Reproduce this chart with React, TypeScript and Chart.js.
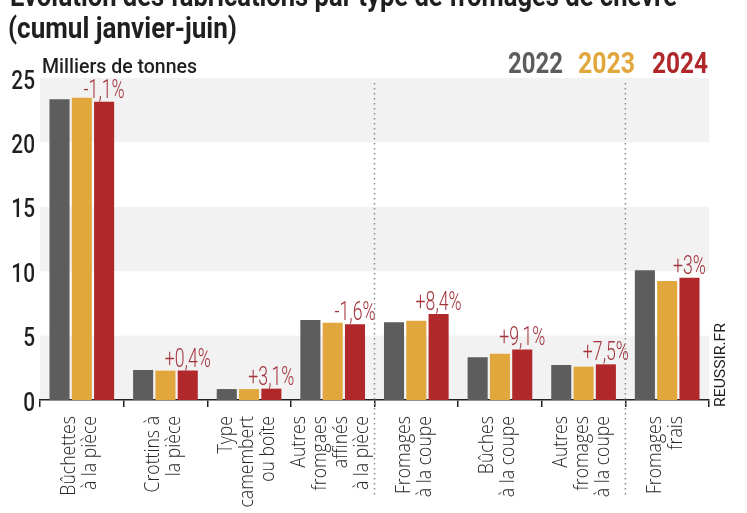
import React, { useEffect, useRef } from "react";
import { Chart, registerables } from "chart.js";

Chart.register(...registerables);

// ---- data ----
const TITLE_LINE_1 = "Évolution des fabrications par type de fromages de chèvre";
const TITLE_LINE_2 = "(cumul janvier-juin)";
const UNIT_LABEL = "Milliers de tonnes";
const SOURCE = "REUSSIR.FR";

const CATEGORIES: string[][] = [
  ["Bûchettes", "à la pièce"],
  ["Crottins à", "la pièce"],
  ["Type", "camembert", "ou boîte"],
  ["Autres", "fromgaes", "affinés", "à la pièce"],
  ["Fromages", "à la coupe"],
  ["Bûches", "à la coupe"],
  ["Autres", "fromages", "à la coupe"],
  ["Fromages", "frais"],
];
const YEARS = ["2022", "2023", "2024"];
const VALUES_2022 = [23.35, 2.33, 0.85, 6.21, 6.03, 3.31, 2.72, 10.07];
const VALUES_2023 = [23.47, 2.28, 0.85, 6.0, 6.16, 3.6, 2.59, 9.24];
const VALUES_2024 = [23.16, 2.29, 0.88, 5.88, 6.68, 3.93, 2.77, 9.5];
const CHANGES = ["-1,1%", "+0,4%", "+3,1%", "-1,6%", "+8,4%", "+9,1%", "+7,5%", "+3%"];
const SEPARATORS_AFTER = [3, 6];
const Y_MAX = 25;
const Y_STEP = 5;

// ---- styles ----
const COLORS = ["#5d5d5d", "#e2a73c", "#b1282b"];
const TEXT = "#1f1f1f";
const PCT_COLOR = "#a3323b";
const BAND = "#f2f2f2";

function drawText(
  ctx: CanvasRenderingContext2D,
  text: string,
  x: number,
  y: number,
  font: string,
  color: string,
  opts: { align?: CanvasTextAlign; baseline?: CanvasTextBaseline; width?: number; sx?: number; rotate?: number } = {}
) {
  ctx.save();
  ctx.font = font;
  ctx.fillStyle = color;
  ctx.textAlign = opts.align || "left";
  ctx.textBaseline = opts.baseline || "alphabetic";
  const w = ctx.measureText(text).width;
  const s = opts.width ? opts.width / w : opts.sx ?? 1;
  ctx.translate(x, y);
  if (opts.rotate) ctx.rotate(opts.rotate);
  ctx.scale(s, 1);
  ctx.fillText(text, 0, 0);
  ctx.restore();
}

const decor = {
  id: "decor",
  beforeDraw(chart: any) {
    const { ctx, chartArea, scales } = chart;
    const y = scales.y;
    ctx.save();
    ctx.fillStyle = BAND;
    for (let v = 0; v < Y_MAX; v += 2 * Y_STEP) {
      const top = y.getPixelForValue(v + Y_STEP);
      const bot = y.getPixelForValue(v);
      ctx.fillRect(chartArea.left, top, chartArea.right - chartArea.left, bot - top);
    }
    ctx.restore();
  },
  afterDraw(chart: any) {
    const { ctx, chartArea, scales } = chart;
    const x = scales.x;
    const y = scales.y;

    // titles
    const titleFont = "bold 30px Roboto, 'DejaVu Sans', sans-serif";
    drawText(ctx, TITLE_LINE_1, 10, 6, titleFont, TEXT, { width: 667 });
    drawText(ctx, TITLE_LINE_2, 8, 38, titleFont, TEXT, { width: 229 });

    // unit
    drawText(ctx, UNIT_LABEL, 42, 73, "500 21px Roboto, sans-serif", TEXT, { width: 155 });

    // legend
    const legendX = [508, 578, 652];
    const legendW = [55, 57, 56];
    chart.data.datasets.forEach((ds: any, i: number) => {
      drawText(ctx, ds.label, legendX[i], 73, "bold 29px Roboto, sans-serif", ds.backgroundColor, {
        width: legendW[i],
      });
    });

    // y tick labels
    y.ticks.forEach((t: any) => {
      const py = y.getPixelForValue(t.value);
      drawText(ctx, String(t.value), 35, py + 4, "500 26px Roboto, sans-serif", TEXT, {
        align: "right",
        baseline: "middle",
        sx: 0.8,
      });
    });

    // x labels (rotated)
    CATEGORIES.forEach((lines, i) => {
      const cx = x.getPixelForTick(i);
      const n = lines.length;
      lines.forEach((line, j) => {
        const lx = cx + (j - (n - 1) / 2) * 21 - 2;
        drawText(ctx, line, lx, chartArea.bottom + 16, "300 21px 'Open Sans', sans-serif", "#262626", {
          align: "right",
          baseline: "middle",
          sx: 0.84,
          rotate: -Math.PI / 2,
        });
      });
    });

    // change labels above 2024 bars
    const meta = chart.getDatasetMeta(2);
    meta.data.forEach((bar: any, i: number) => {
      drawText(ctx, CHANGES[i], bar.x, bar.y - 4, "300 26px Roboto, sans-serif", PCT_COLOR, {
        align: "center",
        sx: 0.68,
      });
    });

    // dotted separators
    ctx.save();
    ctx.strokeStyle = "#8a8a8a";
    ctx.lineWidth = 1.5;
    ctx.setLineDash([1.5, 3.5]);
    SEPARATORS_AFTER.forEach((idx) => {
      const sx = (x.getPixelForTick(idx) + x.getPixelForTick(idx + 1)) / 2;
      ctx.beginPath();
      ctx.moveTo(sx, chartArea.top + 5);
      ctx.lineTo(sx, chartArea.bottom + 98);
      ctx.stroke();
    });
    ctx.restore();

    // source
    drawText(ctx, SOURCE, 725, chartArea.bottom + 7, "15px Roboto, sans-serif", TEXT, {
      align: "left",
      width: 84,
      rotate: -Math.PI / 2,
    });
  },
};

export default function App() {
  const ref = useRef<HTMLCanvasElement | null>(null);

  useEffect(() => {
    document.body.style.margin = "0";
    const canvas = ref.current;
    if (!canvas) return;
    const chart = new Chart(canvas, {
      type: "bar",
      data: {
        labels: CATEGORIES.map((c) => c.join(" ")),
        datasets: [VALUES_2022, VALUES_2023, VALUES_2024].map((vals, i) => ({
          label: YEARS[i],
          data: vals,
          backgroundColor: COLORS[i],
          borderWidth: 0,
          categoryPercentage: 0.8,
          barPercentage: 0.9,
        })),
      },
      options: {
        animation: false,
        responsive: false,
        devicePixelRatio: 1,
        layout: { padding: { left: 0, right: 38, top: 78, bottom: 0 } },
        plugins: { legend: { display: false }, tooltip: { enabled: false }, title: { display: false } },
        scales: {
          x: {
            ticks: { display: false },
            grid: {
              display: true,
              drawOnChartArea: false,
              drawTicks: true,
              tickLength: 7,
              offset: true,
              color: "#222",
              lineWidth: 1.5,
            },
            border: { display: true, color: "#222", width: 1.5 },
            afterFit: (s: any) => {
              s.height = 113;
            },
          },
          y: {
            min: 0,
            max: Y_MAX,
            ticks: { display: false, stepSize: Y_STEP },
            grid: { display: false },
            border: { display: false },
            afterFit: (s: any) => {
              s.width = 40;
            },
          },
        },
      },
      plugins: [decor],
    });
    return () => chart.destroy();
  }, []);

  return (
    <div style={{ width: 747, height: 513, position: "relative", background: "#fff" }}>
      <canvas ref={ref} width={747} height={513} style={{ display: "block" }} />
    </div>
  );
}
